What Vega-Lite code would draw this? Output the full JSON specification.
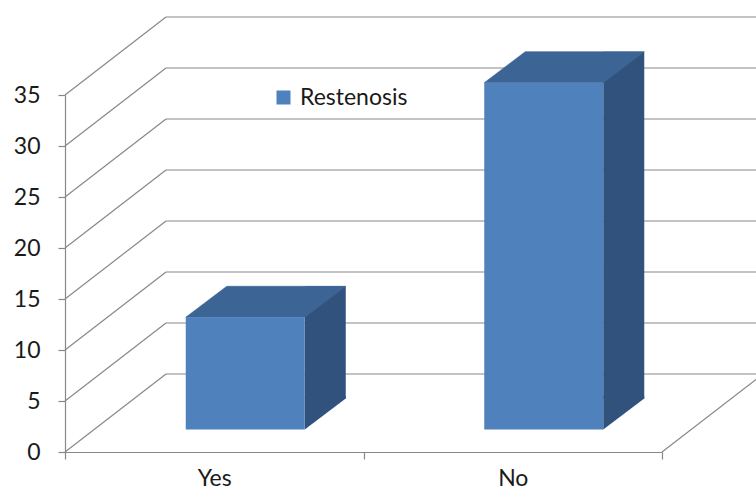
{
  "$schema": "https://vega.github.io/schema/vega-lite/v6.json",
  "autosize": {"type": "none"},
  "padding": {"left": 65, "top": 95, "right": 94, "bottom": 46},
  "width": 597,
  "height": 357,
  "background": "#ffffff",
  "config": {
    "view": {"stroke": null},
    "font": "Lato",
    "axis": {
      "labelFont": "Lato",
      "labelFontSize": 23,
      "labelColor": "#1a1a1a",
      "domainColor": "#888888",
      "domainWidth": 1.2,
      "tickColor": "#888888",
      "tickWidth": 1.2,
      "tickSize": 7,
      "grid": false,
      "title": null
    }
  },
  "datasets": {
    "bars": [
      {"answer": "Yes", "count": 11, "series": "Restenosis"},
      {"answer": "No", "count": 34, "series": "Restenosis"}
    ],
    "grid": [
      {"level": 0}, {"level": 5}, {"level": 10}, {"level": 15},
      {"level": 20}, {"level": 25}, {"level": 30}, {"level": 35}
    ]
  },
  "data": {"name": "bars"},
  "layer": [
    {
      "description": "back wall gridlines",
      "data": {"name": "grid"},
      "mark": {"type": "rule", "color": "#888888", "strokeWidth": 1.2, "xOffset": 101, "x2Offset": 101, "yOffset": -78, "y2Offset": -78},
      "encoding": {
        "x": {"datum": "Yes", "type": "nominal", "bandPosition": 0, "scale": {"domain": ["Yes", "No"], "paddingInner": 0, "paddingOuter": 0}},
        "x2": {"datum": "No", "bandPosition": 1},
        "y": {"field": "level", "type": "quantitative", "scale": {"domain": [0, 35], "nice": false}},
        "y2": {"field": "level"}
      }
    },
    {
      "description": "side wall diagonals",
      "data": {"name": "grid"},
      "mark": {"type": "rule", "color": "#888888", "strokeWidth": 1.2, "x2Offset": 101, "y2Offset": -78},
      "encoding": {
        "x": {"datum": "Yes", "type": "nominal", "bandPosition": 0},
        "x2": {"datum": "Yes", "bandPosition": 0},
        "y": {"field": "level", "type": "quantitative"},
        "y2": {"field": "level"}
      }
    },
    {
      "description": "right edge of the floor",
      "data": {"name": "grid"},
      "transform": [{"filter": "datum.level == 0"}],
      "mark": {"type": "rule", "color": "#888888", "strokeWidth": 1.2, "x2Offset": 101, "y2Offset": -78},
      "encoding": {
        "x": {"datum": "No", "type": "nominal", "bandPosition": 1},
        "x2": {"datum": "No", "bandPosition": 1},
        "y": {"field": "level", "type": "quantitative"},
        "y2": {"field": "level"}
      }
    },
    {
      "description": "bar side faces",
      "mark": {"type": "bar", "width": 41, "xOffset": 111, "yOffset": -53.5, "y2Offset": -53.5, "fill": "#31527c"},
      "encoding": {
        "x": {"field": "answer", "type": "nominal"},
        "y": {"field": "count", "type": "quantitative"}
      }
    },
    {
      "description": "lower corner of the side faces, overlapping the face above it",
      "mark": {"type": "point", "filled": true, "opacity": 1, "size": 4, "shape": "M90.5,-56 L131.5,-56 L131.5,-53.5 L90.5,-22.5 Z", "fill": "#31527c", "strokeWidth": 0},
      "encoding": {
        "x": {"field": "answer", "type": "nominal"},
        "y": {"datum": 0, "type": "quantitative"}
      }
    },
    {
      "description": "bar top faces",
      "mark": {"type": "point", "filled": true, "opacity": 1, "size": 4, "shape": "M-28.5,-22.5 L90.5,-22.5 L131.5,-53.5 L12.5,-53.5 Z", "fill": "#3c6596", "stroke": "#3c6596", "strokeWidth": 0.6},
      "encoding": {
        "x": {"field": "answer", "type": "nominal"},
        "y": {"field": "count", "type": "quantitative"}
      }
    },
    {
      "description": "bar front faces",
      "mark": {"type": "bar", "width": 119, "xOffset": 31, "yOffset": -22.5, "y2Offset": -22.5},
      "encoding": {
        "x": {
          "field": "answer", "type": "nominal", "sort": ["Yes", "No"],
          "axis": {"tickBand": "extent", "labelPadding": 19, "labelAngle": 0, "labelAlign": "center"}
        },
        "y": {
          "field": "count", "type": "quantitative",
          "axis": {"values": [0, 5, 10, 15, 20, 25, 30, 35], "labelPadding": 18}
        },
        "color": {
          "field": "series", "type": "nominal",
          "scale": {"domain": ["Restenosis"], "range": ["#4f81bd"]},
          "legend": {
            "title": null, "orient": "none", "legendX": 207, "legendY": -9,
            "padding": 0, "symbolType": "square", "symbolSize": 196, "symbolStrokeWidth": 0,
            "labelFont": "Lato", "labelFontSize": 23, "labelColor": "#1a1a1a", "labelOffset": 5
          }
        }
      }
    }
  ]
}
